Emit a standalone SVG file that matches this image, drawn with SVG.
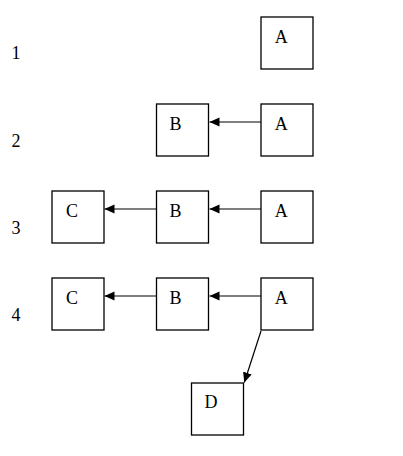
<svg xmlns="http://www.w3.org/2000/svg" width="403" height="456" viewBox="0 0 403 456">
<style>
.box{fill:#fff;stroke:#000;stroke-width:1.3}
.lbl{font-family:"Liberation Serif","DejaVu Serif",serif;font-size:18px;fill:#000;text-anchor:middle}
.num{font-family:"Liberation Serif","DejaVu Serif",serif;font-size:18px;fill:#000;text-anchor:middle}
.edge{stroke:#000;stroke-width:1.2;fill:none;marker-end:url(#ah)}
</style>
<defs>
<marker id="ah" markerUnits="userSpaceOnUse" markerWidth="10" markerHeight="10" viewBox="0 0 10 10" refX="10" refY="5" orient="auto">
<path d="M0,0.5 L10,5 L0,9.5 Z" fill="#000"/>
</marker>
</defs>
<rect width="403" height="456" fill="#fff"/>
<g id="row-labels">
<text class="num" x="16" y="59">1</text>
<text class="num" x="16" y="147">2</text>
<text class="num" x="16" y="234">3</text>
<text class="num" x="16" y="321">4</text>
</g>
<g id="connectors">
<line class="edge" x1="261" y1="122" x2="209.5" y2="122"/>
<line class="edge" x1="261" y1="209" x2="209.5" y2="209"/>
<line class="edge" x1="156" y1="209" x2="104.5" y2="209"/>
<line class="edge" x1="261" y1="296" x2="209.5" y2="296"/>
<line class="edge" x1="156" y1="296" x2="104.5" y2="296"/>
<line class="edge" x1="261" y1="331" x2="244.3" y2="382.5"/>
</g>
<g id="r1-A"><rect class="box" x="261" y="17" width="52" height="52"/><text class="lbl" x="281.3" y="42.5">A</text></g>
<g id="r2-B"><rect class="box" x="156.5" y="104" width="52" height="52"/><text class="lbl" x="175.5" y="129.5">B</text></g>
<g id="r2-A"><rect class="box" x="261" y="104" width="52" height="52"/><text class="lbl" x="281.3" y="129.5">A</text></g>
<g id="r3-C"><rect class="box" x="52" y="191" width="52" height="52"/><text class="lbl" x="72" y="217">C</text></g>
<g id="r3-B"><rect class="box" x="156.5" y="191" width="52" height="52"/><text class="lbl" x="175.5" y="216.5">B</text></g>
<g id="r3-A"><rect class="box" x="261" y="191" width="52" height="52"/><text class="lbl" x="281.3" y="216.5">A</text></g>
<g id="r4-C"><rect class="box" x="52" y="278" width="52" height="52"/><text class="lbl" x="72" y="304">C</text></g>
<g id="r4-B"><rect class="box" x="156.5" y="278" width="52" height="52"/><text class="lbl" x="175.5" y="303.5">B</text></g>
<g id="r4-A"><rect class="box" x="261" y="278" width="52" height="52"/><text class="lbl" x="281.3" y="303.5">A</text></g>
<g id="r4-D"><rect class="box" x="191.5" y="383" width="52" height="52"/><text class="lbl" x="211" y="407.5">D</text></g>
</svg>
